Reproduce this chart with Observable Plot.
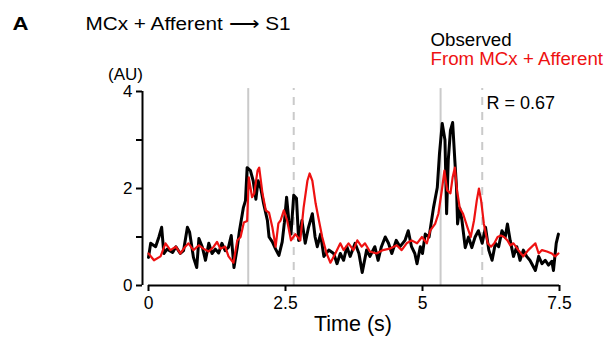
<!DOCTYPE html>
<html><head><meta charset="utf-8">
<script src="https://cdn.jsdelivr.net/npm/d3@7"></script>
<script src="https://cdn.jsdelivr.net/npm/@observablehq/plot@0.6"></script>
<style>
body{margin:0;background:#fff}
#chart svg{font-family:"Liberation Sans",Arial,Helvetica,sans-serif}
</style>
</head><body><div id="chart"></div>
<script>
// Observed trace (black)
const obsT = [0,0.04,0.13,0.19,0.24,0.28,0.34,0.44,0.5,0.58,0.64,0.71,0.75,0.82,0.88,0.92,0.98,1.04,1.1,1.16,1.22,1.28,1.34,1.4,1.46,1.51,1.56,1.62,1.66,1.73,1.77,1.8,1.86,1.91,1.96,2.0,2.05,2.1,2.17,2.2,2.26,2.32,2.38,2.44,2.48,2.52,2.56,2.6,2.65,2.7,2.74,2.8,2.86,2.92,2.99,3.04,3.08,3.14,3.2,3.29,3.38,3.44,3.5,3.56,3.62,3.68,3.77,3.84,3.9,3.98,4.04,4.13,4.19,4.25,4.32,4.38,4.44,4.52,4.59,4.68,4.74,4.8,4.86,4.9,4.96,5.0,5.05,5.12,5.2,5.27,5.31,5.36,5.41,5.44,5.47,5.51,5.55,5.59,5.62,5.64,5.68,5.72,5.78,5.84,5.9,5.96,6.02,6.09,6.15,6.21,6.27,6.33,6.39,6.45,6.51,6.55,6.6,6.66,6.72,6.78,6.84,6.9,6.96,7.06,7.12,7.18,7.24,7.3,7.36,7.39,7.44,7.48];
const obsV = [0.58,0.87,0.8,1.0,1.2,0.66,0.75,0.68,0.8,0.66,0.72,1.2,1.1,0.58,0.37,0.97,0.8,0.52,0.87,0.66,0.75,0.67,0.87,0.72,0.79,1.03,0.37,0.79,1.13,1.6,1.75,2.43,2.37,2.16,1.78,2.16,2.0,1.69,1.34,1.0,0.9,0.75,0.62,0.9,1.3,1.82,1.34,1.06,1.86,1.8,0.93,1.34,0.87,1.2,1.48,1.0,0.8,1.06,0.6,0.73,0.66,0.45,0.66,0.52,0.8,0.6,0.87,0.66,0.27,0.73,0.6,0.8,0.52,0.8,1.0,0.87,0.66,0.93,0.8,0.93,1.13,0.8,0.66,0.45,0.8,0.66,1.06,1.0,1.6,2.02,2.72,3.34,3.0,1.48,2.58,3.2,3.36,2.58,2.03,1.27,1.6,1.34,0.78,1.0,0.78,1.0,1.13,0.87,1.2,0.73,0.52,0.87,0.8,1.13,1.0,1.27,0.93,0.6,0.8,0.52,0.73,0.6,0.52,0.31,0.6,0.45,0.52,0.42,0.5,0.31,0.87,1.06];
// Predicted trace (red)
const predT = [0,0.1,0.22,0.31,0.4,0.5,0.58,0.67,0.73,0.82,0.92,1.0,1.1,1.19,1.25,1.31,1.4,1.46,1.55,1.62,1.68,1.74,1.8,1.83,1.89,1.93,1.99,2.02,2.08,2.14,2.2,2.26,2.32,2.37,2.41,2.47,2.53,2.6,2.68,2.77,2.83,2.9,2.94,2.99,3.05,3.11,3.17,3.25,3.32,3.41,3.5,3.56,3.65,3.74,3.81,3.89,3.95,4.04,4.16,4.28,4.4,4.53,4.62,4.71,4.8,4.9,4.99,5.08,5.14,5.23,5.29,5.36,5.4,5.45,5.51,5.55,5.59,5.63,5.68,5.74,5.82,5.88,5.94,5.99,6.03,6.07,6.12,6.19,6.25,6.31,6.37,6.43,6.49,6.55,6.6,6.66,6.75,6.84,6.93,7.06,7.12,7.18,7.27,7.36,7.42,7.48];
const predV = [0.66,0.52,0.6,0.87,0.73,0.8,0.66,0.8,0.87,0.73,0.83,0.76,0.7,0.8,0.9,0.76,0.8,0.6,0.47,0.93,1.0,1.3,1.33,2.23,1.82,1.9,2.37,2.43,1.9,1.55,1.5,1.2,0.8,1.28,1.34,1.55,1.34,0.93,1.06,0.93,1.6,2.16,2.31,2.16,1.69,1.34,1.0,0.66,0.47,0.66,0.87,0.73,0.87,0.73,0.93,0.8,0.87,0.7,0.66,0.73,0.76,0.83,0.73,0.87,0.93,0.87,1.0,0.87,1.13,1.27,1.48,2.02,2.37,1.96,1.9,2.23,2.43,1.96,1.6,1.48,1.2,1.0,1.34,1.75,2.0,1.75,1.27,0.87,0.8,0.87,1.0,1.03,1.0,0.93,0.83,0.87,0.73,0.6,0.73,0.87,0.66,0.73,0.7,0.66,0.6,0.66];
// Event markers (s)
const eventsSolid = [1.82, 5.33];
const eventsDashed = [2.65, 6.09];
// Ticks
const xTicks = [0, 2.5, 5, 7.5];
const yTicks = [0, 1, 2, 3, 4];
const yTickLabels = ["0", "", "2", "", "4"];
// Texts
const panelLetter = "A";
const titleText = "MCx + Afferent \u27F6 S1";
const legendObserved = "Observed";
const legendPredicted = "From MCx + Afferent";
const unitText = "(AU)";
const rText = "R = 0.67";
const xLabel = "Time (s)";

const observed = obsT.map((t, i) => ({t, v: obsV[i]}));
const predicted = predT.map((t, i) => ({t, v: predV[i]}));
const RED = "#ee1111";
const GRAY = "#cacaca";

const chart = Plot.plot({
  width: 608, height: 343,
  marginLeft: 148, marginRight: 49, marginTop: 91, marginBottom: 58,
  x: {domain: [0, 7.5]},
  y: {domain: [0, 4]},
  style: {fontFamily: '"Liberation Sans",Arial,sans-serif', fontSize: "17px", color: "#000", background: "#fff", overflow: "visible"},
  marks: [
    Plot.ruleX(eventsSolid, {y1: 0, y2: 4.06, stroke: GRAY, strokeWidth: 2}),
    Plot.ruleX(eventsDashed, {y1: 0, y2: 4.06, stroke: GRAY, strokeWidth: 2, strokeDasharray: "8,7"}),
    Plot.line(observed, {x: "t", y: "v", stroke: "#000", strokeWidth: 3}),
    Plot.line(predicted, {x: "t", y: "v", stroke: RED, strokeWidth: 2.2}),
    Plot.ruleY([0], {x1: 0, x2: 7.5, stroke: "#000", strokeWidth: 2}),
    Plot.ruleX([0], {y1: 0, y2: 4, dx: -6, stroke: "#000", strokeWidth: 2}),
    Plot.axisX({ticks: xTicks, tickSize: 6, tickPadding: 5, strokeWidth: 2, fontSize: 17.5, label: null, tickFormat: d => String(d)}),
    Plot.axisY({ticks: yTicks, tickSize: 6, tickPadding: 4, dx: -6, strokeWidth: 2, fontSize: 17, label: null, tickFormat: (d, i) => yTickLabels[i]}),
    Plot.text([panelLetter], {frameAnchor: "top-left", textAnchor: "start", lineAnchor: "bottom", dx: -136, dy: -62, fontSize: 18, fontWeight: "bold"}),
    Plot.text([titleText], {frameAnchor: "top-left", textAnchor: "start", lineAnchor: "bottom", dx: -63, dy: -62, fontSize: 17.5}),
    Plot.text([legendObserved], {frameAnchor: "top-left", textAnchor: "start", lineAnchor: "bottom", dx: 282, dy: -46, fontSize: 18.7, fill: "#000"}),
    Plot.text([legendPredicted], {frameAnchor: "top-left", textAnchor: "start", lineAnchor: "bottom", dx: 282, dy: -27, fontSize: 18.7, fill: RED}),
    Plot.text([unitText], {frameAnchor: "top-left", textAnchor: "middle", lineAnchor: "bottom", dx: -23, dy: -12, fontSize: 17}),
    Plot.text([rText], {frameAnchor: "top-left", textAnchor: "start", lineAnchor: "bottom", dx: 338, dy: 17, fontSize: 18}),
    Plot.text([xLabel], {frameAnchor: "bottom", textAnchor: "middle", lineAnchor: "bottom", dx: -1, dy: 45, fontSize: 21.5})
  ]
});
// stretch the title line to the reference's wide lettering
const stretch = {[titleText]: 205, [panelLetter]: 16};
d3.select(chart).selectAll("text").each(function () {
  const s = this.textContent;
  if (stretch[s]) {
    this.setAttribute("textLength", stretch[s]);
    this.setAttribute("lengthAdjust", "spacingAndGlyphs");
  }
});
document.getElementById("chart").appendChild(chart);
</script>
</body></html>
